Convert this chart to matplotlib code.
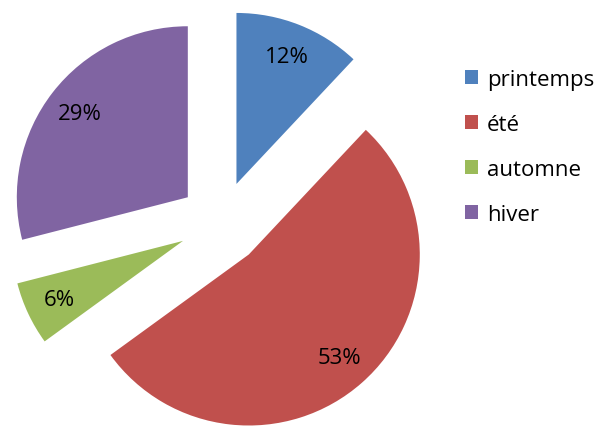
import matplotlib.pyplot as plt

labels = ['printemps', 'été', 'automne', 'hiver']
values = [12, 53, 6, 29]
colors = ['#4F81BD', '#C0504D', '#9BBB59', '#8064A2']

plt.rcParams['font.family'] = ['Open Sans', 'DejaVu Sans']

fig = plt.figure(figsize=(6, 4.27), dpi=100)
ax = fig.add_axes([0, 0, 1, 1])

# explode is in data units here (pixels), not scaled by radius
wedges, texts, autotexts = ax.pie(
    values, colors=colors, startangle=90, counterclock=False,
    explode=[42] * 4, radius=171, center=(221, 203),
    autopct='%1.0f%%', pctdistance=0.8,
    textprops={'fontsize': 16, 'color': '#000000'})

ax.set_xlim(0, 600)
ax.set_ylim(0, 427)
ax.set_aspect('equal')
ax.axis('off')

ax.legend(wedges, labels, loc='upper left', bbox_to_anchor=(0.741, 0.883),
          frameon=False, fontsize=16, handlelength=0.6, handleheight=0.6,
          handletextpad=0.4, labelspacing=1.08)

plt.savefig('out.png', dpi=100)
